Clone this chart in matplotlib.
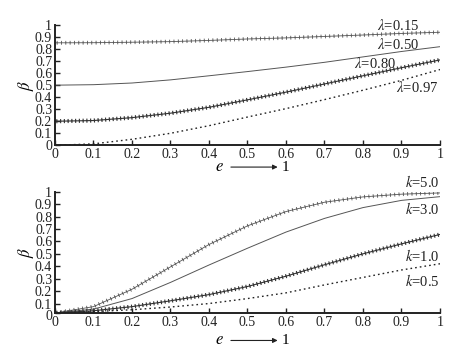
import matplotlib
matplotlib.use("Agg")
import matplotlib.pyplot as plt
from matplotlib import patheffects as pe
from matplotlib.patches import FancyArrowPatch
from matplotlib.transforms import ScaledTranslation

plt.rcParams['font.family'] = ['Liberation Serif', 'DejaVu Serif']
plt.rcParams['mathtext.fontset'] = 'stix'

e = [0.0, 0.1, 0.2, 0.3, 0.4, 0.5, 0.6, 0.7, 0.8, 0.9, 1.0]

lam015 = [0.852, 0.853, 0.857, 0.862, 0.872, 0.884, 0.893, 0.905, 0.917, 0.93, 0.94]
lam050 = [0.50, 0.504, 0.518, 0.544, 0.578, 0.613, 0.65, 0.69, 0.735, 0.78, 0.82]
lam080 = [0.20, 0.206, 0.23, 0.267, 0.316, 0.378, 0.442, 0.51, 0.578, 0.645, 0.71]
lam097 = [0.0, 0.012, 0.05, 0.10, 0.163, 0.235, 0.305, 0.38, 0.458, 0.54, 0.63]

k50 = [0.024, 0.075, 0.215, 0.395, 0.575, 0.725, 0.84, 0.915, 0.958, 0.98, 0.99]
k30 = [0.024, 0.055, 0.14, 0.27, 0.41, 0.545, 0.675, 0.785, 0.872, 0.93, 0.96]
k10 = [0.024, 0.042, 0.075, 0.122, 0.172, 0.237, 0.32, 0.412, 0.50, 0.58, 0.656]
k05 = [0.024, 0.035, 0.05, 0.072, 0.10, 0.14, 0.186, 0.25, 0.31, 0.37, 0.42]

top_labels = [r'$\lambda$=0.15', r'$\lambda$=0.50', r'$\lambda$=0.80', r'$\lambda$=0.97']
top_label_pos = [(0.89, 1.00), (0.89, 0.84), (0.83, 0.68), (0.94, 0.48)]
bot_labels = [r'$k$=5.0', r'$k$=3.0', r'$k$=1.0', r'$k$=0.5']
bot_label_pos = [(0.955, 1.08), (0.955, 0.86), (0.955, 0.48), (0.955, 0.28)]

x_ticks = [0, 0.1, 0.2, 0.3, 0.4, 0.5, 0.6, 0.7, 0.8, 0.9, 1.0]
tick_labels = ['0', '0.1', '0.2', '0.3', '0.4', '0.5', '0.6', '0.7', '0.8', '0.9', '1']
top_ymin = 0.0
bot_ymin = 0.024

fig = plt.figure(figsize=(4.59, 3.51), dpi=100)
ax1 = fig.add_axes([0.1198, 0.586, 0.8388, 0.3427])
ax2 = fig.add_axes([0.1198, 0.1083, 0.8388, 0.3456])


def cross_effects(spacing, length, lw):
    return [pe.Stroke(), pe.TickedStroke(spacing=spacing, angle=90, length=length, linewidth=lw),
            pe.TickedStroke(spacing=spacing, angle=-90, length=length, linewidth=lw)]


def draw(ax, series, labels, pos, ymin):
    s1, s2, s3, s4 = series
    ax.plot(e, s1, color='#555555', lw=0.6, path_effects=cross_effects(3.1, 0.35, 0.6))
    ax.plot(e, s2, color='#555555', lw=0.7)
    ax.plot(e, s3, color='#333333', lw=0.8, path_effects=cross_effects(2.7, 0.4, 0.8))
    ax.plot(e, s4, color='#222222', lw=1.0, ls=(0, (1.2, 2.2)))
    for t, (x, y) in zip(labels, pos):
        ax.text(x, y, t, fontsize=10.5, ha='center', va='center', color='#222222')
    ax.set_xlim(0, 1)
    ax.set_ylim(ymin, 1)
    ax.set_xticks(x_ticks)
    ax.set_xticklabels(tick_labels)
    ax.set_yticks([ymin] + x_ticks[1:])
    ax.set_yticklabels(tick_labels)
    ax.tick_params(direction='in', length=3.5, width=1.0, labelsize=10, pad=2, colors='#222222')
    ax.tick_params(axis='x', pad=2)
    for sp in ['top', 'right']:
        ax.spines[sp].set_visible(False)
    for sp in ['left', 'bottom']:
        ax.spines[sp].set_linewidth(1.4)
        ax.spines[sp].set_color('#222222')
    ax.set_ylabel(r'$\beta$', fontsize=12, labelpad=-1)


draw(ax1, [lam015, lam050, lam080, lam097], top_labels, top_label_pos, top_ymin)
draw(ax2, [k50, k30, k10, k05], bot_labels, bot_label_pos, bot_ymin)

# nudge the crowded "0" label of the lower panel down a little
lab0 = ax2.get_yticklabels()[0]
lab0.set_transform(lab0.get_transform() + ScaledTranslation(0, -2 / 100, fig.dpi_scale_trans))

for yy in [0.524, 0.030]:
    fig.text(0.479, yy, r'$e$', fontsize=12, ha='center', va='center')
    fig.text(0.622, yy, '1', fontsize=11, ha='center', va='center')
    fig.add_artist(FancyArrowPatch((0.497, yy), (0.611, yy), transform=fig.transFigure,
                                   arrowstyle='-|>', mutation_scale=7, lw=0.8, color='#222222'))

fig.savefig('out.png', dpi=100)
